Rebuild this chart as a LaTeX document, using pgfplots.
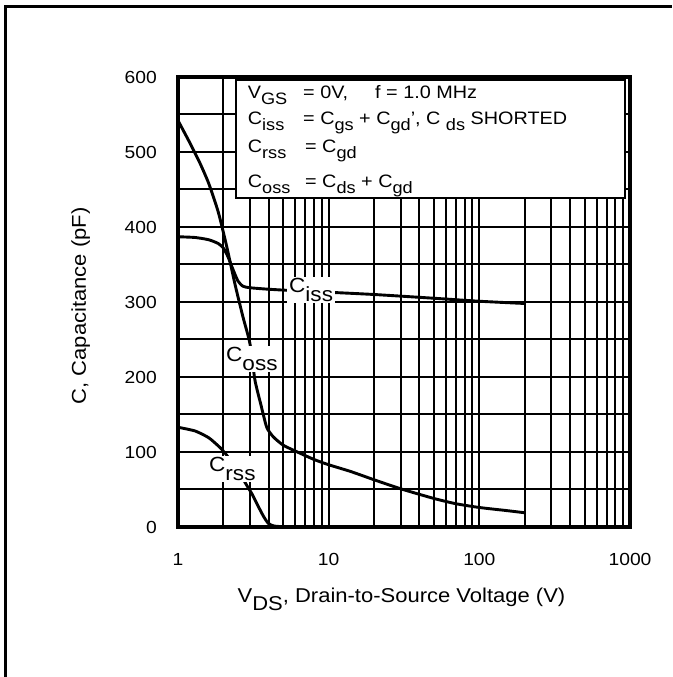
\documentclass[border=0pt]{standalone}
\usepackage{fontspec}
\setmainfont{Liberation Sans}[FakeStretch=1.1]
\usepackage{graphicx}
\usepackage{pgfplots}
\pgfplotsset{compat=1.18}
\newcommand{\sub}[1]{\raisebox{-0.33em}{\fontsize{16.5}{16.5}\selectfont #1}}
\newcommand{\csub}[1]{\raisebox{-0.4em}{#1}}
\begin{document}
\begin{tikzpicture}[x=1pt,y=1pt]
\useasboundingbox (-178,-150) rectangle (494,527);
\begin{axis}[at={(0,0)}, anchor=south west, scale only axis,
  width=452pt, height=450pt,
  xmode=log, xmin=1, xmax=1000, ymin=0, ymax=600,
  xtick={1,2,3,4,5,6,7,8,9,10,20,30,40,50,60,70,80,90,100,200,300,400,500,600,700,800,900,1000},
  xticklabels={1,,,,,,,,,10,,,,,,,,,100,,,,,,,,,1000},
  ytick={0,50,100,150,200,250,300,350,400,450,500,550,600},
  yticklabels={0,,100,,200,,300,,400,,500,,600},
  minor xtick={}, minor ytick={},
  xmajorgrids, ymajorgrids,
  major grid style={black,line width=2pt},
  axis line style={black,line width=3.5pt},
  major tick length=0pt, minor tick length=0pt,
  tick label style={font=\fontsize{17.5}{17.5}\selectfont},
  xticklabel style={inner sep=0pt, yshift=-26pt},
  yticklabel style={inner sep=0pt, xshift=-21pt},
]
% C_iss
\addplot[black, line width=2.9pt, line join=round, smooth, tension=0.35] coordinates {
(1,387) (1.3,386) (1.6,383) (1.85,378) (2.0,372) (2.15,360) (2.3,345) (2.5,328) (2.7,321)
(3,319) (4,317) (6,315) (10,313) (20,310) (50,305) (100,301) (200,298)};
% C_oss
\addplot[black, line width=2.9pt, line join=round, smooth, tension=0.35] coordinates {
(1,542) (1.2,512) (1.4,485) (1.6,458) (1.85,420) (2.1,375) (2.4,322) (2.7,280) (3.0,245)
(3.24,196) (3.55,163) (3.88,133) (4.3,120) (5,109) (6.2,100) (8,90) (10,83) (14,74)
(20,63) (30,51) (50,38) (70,31) (100,26) (150,22) (200,19)};
% C_rss
\addplot[black, line width=2.9pt, line join=round, smooth, tension=0.35] coordinates {
(1,133) (1.3,128) (1.6,119) (1.9,106) (2.1,96) (2.4,80) (2.7,64) (2.91,53) (3.1,44)
(3.4,28) (3.7,14) (3.97,5) (4.3,1.5) (5,0.5) (10,0.3) (200,0.3)};
\end{axis}
% frame
\draw[line width=3pt] (-172,-150) -- (-172,520) -- (494,520);
% legend box
\draw[fill=white, line width=2pt] (58,329) rectangle (447,447.3);
\begin{scope}[every node/.style={anchor=base west, inner sep=0pt, font=\fontsize{18}{18}\selectfont}]
\node at (69.7,428) {V\sub{GS}};
\node at (125,428) {= 0V,};
\node at (197,428) {f = 1.0 MHz};
\node at (69.7,402) {C\sub{iss}};
\node at (125,402) {= C\sub{gs} + C\sub{gd}', C \sub{ds} SHORTED};
\node at (69.7,374) {C\sub{rss}};
\node at (127,374) {= C\sub{gd}};
\node at (69.7,339) {C\sub{oss}};
\node at (127,339) {= C\sub{ds} + C\sub{gd}};
\end{scope}
% curve labels
\begin{scope}[every node/.style={anchor=base west, fill=white, inner sep=2pt, font=\fontsize{20.5}{20.5}\selectfont}]
\node at (109,234) {C\csub{iss}};
\node at (46,165) {C\csub{oss}};
\node at (29,55) {C\csub{rss}};
\end{scope}
% axis labels
\node[anchor=base, inner sep=0pt, font=\fontsize{20}{20}\selectfont] at (223.5,-75) {V\csub{DS}, Drain-to-Source Voltage (V)};
\node[anchor=base, rotate=90, inner sep=0pt, font=\fontsize{20}{20}\selectfont] at (-92,221) {C, Capacitance (pF)};
\end{tikzpicture}
\end{document}
